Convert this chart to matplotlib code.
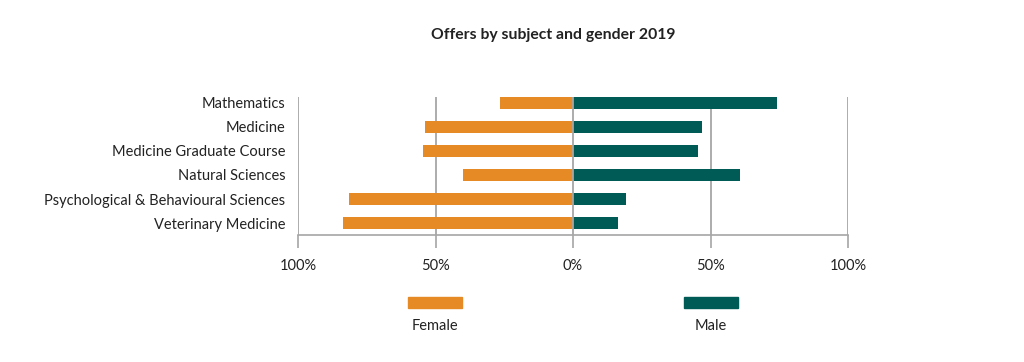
import matplotlib.pyplot as plt
from matplotlib.patches import Rectangle

subjects = ['Mathematics', 'Medicine', 'Medicine Graduate Course',
            'Natural Sciences', 'Psychological & Behavioural Sciences',
            'Veterinary Medicine']
female = [26.4, 53.8, 54.6, 39.9, 81.4, 83.8]
male = [74.2, 46.9, 45.5, 60.7, 19.1, 16.5]
xticks = [-100, -50, 0, 50, 100]
xlabels = ['100%', '50%', '0%', '50%', '100%']

orange = '#E58A25'
teal = '#005A55'
grid_c = '#a6a6a6'

plt.rcParams['font.family'] = ['Lato', 'DejaVu Sans']

fig = plt.figure(figsize=(10.24, 3.62), dpi=100)
W, H = 1024, 362
ax = fig.add_axes([298 / W, 1 - 235 / H, 550 / W, 138 / H])

y = list(range(len(subjects)))
ax.barh(y, [-f for f in female], height=0.5, color=orange, zorder=3)
ax.barh(y, male, height=0.5, color=teal, zorder=3)

for x in xticks:
    ax.axvline(x, color=grid_c, lw=1.3, zorder=1 if x != 0 else 4)

ax.set_xlim(-100, 100)
ax.set_ylim(5.5, -0.25)
ax.set_yticks(y)
ax.set_yticklabels(subjects, fontsize=10.5, color='#222222')
ax.tick_params(axis='y', length=0, pad=9)
ax.set_xticks(xticks)
ax.set_xticklabels(xlabels, fontsize=10.5, color='#222222')
ax.tick_params(axis='x', length=9, width=1.2, color=grid_c, pad=8)
for s in ['top', 'left', 'right']:
    ax.spines[s].set_visible(False)
ax.spines['bottom'].set_color(grid_c)
ax.spines['bottom'].set_linewidth(1.2)

fig.text(553 / W, 1 - 35 / H, 'Offers by subject and gender 2019',
         ha='center', va='center', fontsize=11.3, fontweight='bold',
         color='#222222')

# legend
for cx, col, lab in [(435, orange, 'Female'), (711, teal, 'Male')]:
    fig.patches.append(Rectangle(((cx - 27) / W, 1 - 308 / H), 54 / W, 11 / H,
                                 transform=fig.transFigure, color=col))
    fig.text(cx / W, 1 - 326 / H, lab, ha='center', va='center',
             fontsize=10.5, color='#222222')

fig.savefig('out.png', dpi=100)
